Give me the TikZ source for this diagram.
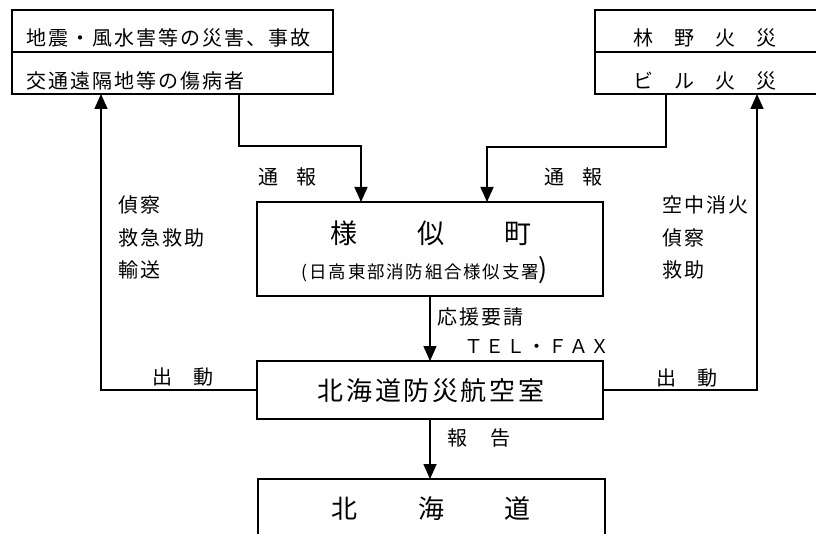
\documentclass[tikz,border=0pt]{standalone}
\usepackage{fontspec}
\newfontfamily\jp{Noto Sans CJK JP}[LetterSpace=10]
\usetikzlibrary{arrows.meta}
\tikzset{
  box/.style={draw, line width=1.6pt, inner sep=0pt, outer sep=0pt, anchor=north west},
  lbl/.style={inner sep=0pt, text=black, font=\jp\fontsize{20}{20}\selectfont},
  conn/.style={line width=1.6pt},
  arr/.style={conn, -{Triangle[width=13pt,length=15pt]}},
}
\begin{document}
\begin{tikzpicture}[x=1pt,y=-1pt]
\useasboundingbox (0,0) rectangle (816,534);
\clip (0,0) rectangle (816,534);
% boxes
\node[box, minimum width=321pt, minimum height=42pt] (dis1) at (12,10) {};
\node[box, minimum width=321pt, minimum height=42pt] (dis2) at (12,52) {};
\node[box, minimum width=240pt, minimum height=42pt] (fire1) at (595,10) {};
\node[box, minimum width=240pt, minimum height=42pt] (fire2) at (595,52) {};
\node[box, minimum width=346pt, minimum height=94pt] (town) at (257,202) {};
\node[box, minimum width=346pt, minimum height=58pt] (air) at (257,361) {};
\node[box, minimum width=347pt, minimum height=80pt] (hok) at (258,479) {};
% texts in boxes
\node[lbl, anchor=west] (t1) at (26,38) {地震・風水害等の災害、事故};
\node[lbl, anchor=west] (t2) at (26,81) {交通遠隔地等の傷病者};
\node[lbl] (f1) at (705,38) {林\hspace{21pt}野\hspace{21pt}火\hspace{21pt}災};
\node[lbl] (f2) at (705,81) {ビ\hspace{21pt}ル\hspace{21pt}火\hspace{21pt}災};
\node[lbl, font=\jp\fontsize{27}{27}\selectfont] (tt) at (431,233) {様\hspace{60pt}似\hspace{60pt}町};
\node[lbl, font=\jp\fontsize{17.5}{17.5}\selectfont] (ts) at (425,270) {(日高東部消防組合様似支署{\fontsize{27}{27}\selectfont )}};
\node[lbl, font=\jp\fontsize{26}{26}\selectfont] (at) at (431,391) {北海道防災航空室};
\node[lbl, font=\jp\fontsize{26}{26}\selectfont] (ht) at (431,509) {北\hspace{61pt}海\hspace{61pt}道};
% connectors
\coordinate (j1) at (239,146);
\coordinate (j2) at (361,146);
\coordinate (j3) at (666,147);
\coordinate (j4) at (487,147);
\coordinate (l1) at (101,391);
\coordinate (r1) at (757,391);
\draw[arr] (j1 |- dis2.south) -- (j1) -- (j2) -- (j2 |- town.north);
\draw[arr] (j3 |- fire2.south) -- (j3) -- (j4) -- (j4 |- town.north);
\draw[arr] (town.south) -- (town.south |- air.north);
\draw[arr] (air.south) -- (air.south |- hok.north);
\draw[arr] (air.west) -- (air.west -| l1) -- (l1 |- dis2.south);
\draw[arr] (air.east) -- (air.east -| r1) -- (r1 |- fire2.south);
% connector labels
\node[lbl] (n1) at (287,177) {通\hspace{18pt}報};
\node[lbl] (n2) at (573,177) {通\hspace{18pt}報};
\node[lbl, anchor=west] (la) at (118,205) {偵察};
\node[lbl, anchor=west] (lb) at (118,238) {救急救助};
\node[lbl, anchor=west] (lc) at (118,270) {輸送};
\node[lbl, anchor=west] (ra) at (662,205) {空中消火};
\node[lbl, anchor=west] (rb) at (662,238) {偵察};
\node[lbl, anchor=west] (rc) at (662,270) {救助};
\node[lbl] (d1) at (183,377) {出\hspace{21pt}動};
\node[lbl] (d2) at (687,378) {出\hspace{21pt}動};
\node[lbl, anchor=west] (ou) at (437,317) {応援要請};
\node[lbl, font=\jp\fontsize{19}{19}\selectfont] (tel) at (537,347) {ＴＥＬ・ＦＡＸ};
\node[lbl] (hk) at (479,438) {報\hspace{23pt}告};
\end{tikzpicture}
\end{document}
